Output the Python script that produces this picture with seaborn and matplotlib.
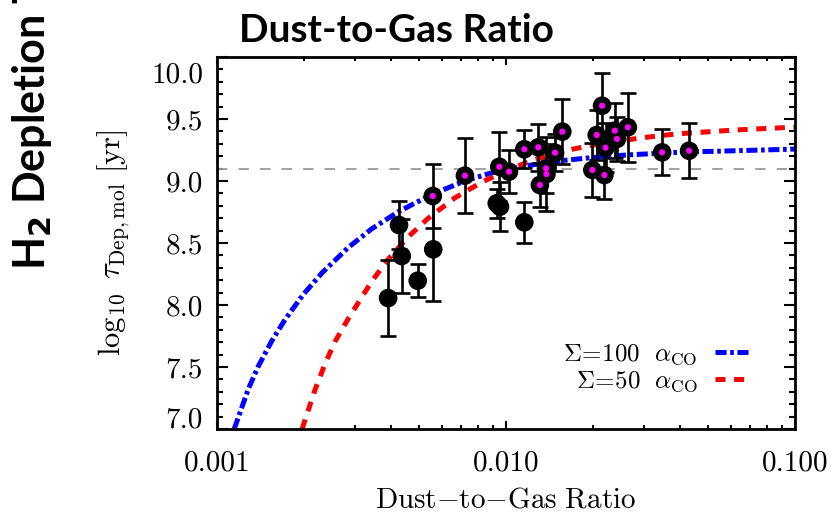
import matplotlib
matplotlib.use("Agg")
import matplotlib.pyplot as plt
import matplotlib.transforms as mtransforms
from matplotlib.ticker import FixedLocator, FixedFormatter, NullFormatter, LogLocator
from matplotlib.lines import Line2D
import numpy as np
import pandas as pd
import seaborn as sns

# ---- data -------------------------------------------------------------
# galaxies shown as plain black points
plain_dgr = [0.00391, 0.004264, 0.004357, 0.00495, 0.00560, 0.00929, 0.00953, 0.01157]
plain_tau = [8.056, 8.645, 8.395, 8.196, 8.449, 8.820, 8.793, 8.667]
plain_err = [0.31, 0.19, 0.30, 0.135, 0.42, 0.115, 0.20, 0.163]

# galaxies shown as black points with a magenta centre
marked_dgr = [0.00558, 0.00721, 0.00948, 0.01024, 0.01157, 0.01293, 0.01478,
              0.01375, 0.0138, 0.0131, 0.01566, 0.0215, 0.0206, 0.0199,
              0.0219, 0.0221, 0.0238, 0.0242, 0.0264, 0.0347, 0.0430]
marked_tau = [8.879, 9.043, 9.115, 9.075, 9.256, 9.272, 9.228,
              9.102, 9.056, 8.968, 9.398, 9.607, 9.371, 9.089,
              9.048, 9.269, 9.406, 9.339, 9.433, 9.231, 9.244]
marked_err = [0.255, 0.30, 0.28, 0.175, 0.155, 0.19, 0.15,
              0.20, 0.30, 0.18, 0.26, 0.26, 0.20, 0.215,
              0.19, 0.20, 0.22, 0.18, 0.28, 0.185, 0.22]

# model curves
model100_dgr = [0.001147, 0.001283, 0.001389, 0.001546, 0.001719, 0.001989, 0.002304,
                0.002846, 0.00343, 0.00424, 0.005531, 0.007212, 0.009406, 0.01118,
                0.01538, 0.0200, 0.02616, 0.0400, 0.0961, 0.1]
model100_tau = [7.0, 7.322, 7.505, 7.709, 7.882, 8.085, 8.257,
                8.464, 8.614, 8.752, 8.891, 9.001, 9.082, 9.115,
                9.163, 9.190, 9.210, 9.232, 9.256, 9.258]

model50_dgr = [0.00197, 0.002183, 0.002364, 0.002561, 0.002846, 0.003125, 0.00343,
               0.003915, 0.004591, 0.005385, 0.006662, 0.008236, 0.01019, 0.0126,
               0.01709, 0.02115, 0.02986, 0.03897, 0.06283, 0.0911, 0.1]
model50_tau = [7.0, 7.315, 7.525, 7.705, 7.89, 8.04, 8.19,
               8.37, 8.55, 8.70, 8.865, 8.99, 9.09, 9.175,
               9.258, 9.300, 9.350, 9.380, 9.412, 9.430, 9.434]

reference_tau = 9.1

x_ticks = [0.001, 0.01, 0.1]
x_ticklabels = ["0.001", "0.010", "0.100"]
y_ticks = [7.0, 7.5, 8.0, 8.5, 9.0, 9.5, 10.0]
y_ticklabels = ["7.0", "7.5", "8.0", "8.5", "9.0", "9.5", "10.0"]

label100 = r"$\Sigma\!=\!100\ \ \alpha_{\rm CO}$"
label50 = r"$\Sigma\!=\!50\ \ \alpha_{\rm CO}$"

# ---- style ------------------------------------------------------------
sns.set_style("ticks")
plt.rcParams["font.family"] = ["cmr10", "DejaVu Serif"]
plt.rcParams["mathtext.fontset"] = "cm"
plt.rcParams["lines.scale_dashes"] = False
plt.rcParams["axes.unicode_minus"] = False
plt.rcParams["text.color"] = "black"
plt.rcParams["axes.labelcolor"] = "black"
plt.rcParams["xtick.color"] = "black"
plt.rcParams["ytick.color"] = "black"

fig = plt.figure(figsize=(8.36, 5.13), dpi=100)
ax = fig.add_axes([217 / 836, 1 - 429 / 513, 578 / 836, 372 / 513])
ax.set_xscale("log")

# reference level
ax.axhline(reference_tau, color="#9a9a9a", lw=1.3, dashes=(7.5, 8), zorder=1)

# model curves
sns.lineplot(x=model100_dgr, y=model100_tau, ax=ax, color="#0000ff", lw=3.6,
             estimator=None, sort=False, zorder=2, legend=False)
ax.lines[-1].set_dashes([8, 2.6, 2.6, 2.6])
ax.lines[-1].set_dash_capstyle("butt")
sns.lineplot(x=model50_dgr, y=model50_tau, ax=ax, color="#ff0000", lw=3.6,
             estimator=None, sort=False, zorder=2, legend=False)
ax.lines[-1].set_dashes([7.2, 6.2])
ax.lines[-1].set_dash_capstyle("butt")

# error bars
ax.errorbar(plain_dgr, plain_tau, yerr=plain_err, fmt="none", ecolor="black",
            elinewidth=1.9, capsize=5.8, capthick=1.9, zorder=3)
ax.errorbar(marked_dgr, marked_tau, yerr=marked_err, fmt="none", ecolor="black",
            elinewidth=1.9, capsize=5.8, capthick=1.9, zorder=3)

# points
sns.scatterplot(x=plain_dgr + marked_dgr, y=plain_tau + marked_tau, ax=ax,
                s=180, color="black", edgecolor="none", zorder=4, legend=False)
sns.scatterplot(x=marked_dgr, y=marked_tau, ax=ax, s=20, color="#ff00ff",
                edgecolor="none", zorder=5, legend=False)

ax.set_xlim(0.001, 0.1)
ax.set_ylim(7.0, 10.0)

# axes, ticks
for sp in ax.spines.values():
    sp.set_linewidth(2.0)
    sp.set_color("black")
    sp.set_visible(True)

ax.xaxis.set_major_locator(FixedLocator(x_ticks))
ax.xaxis.set_major_formatter(FixedFormatter(x_ticklabels))
ax.xaxis.set_minor_locator(LogLocator(base=10, subs=np.arange(2, 10)))
ax.xaxis.set_minor_formatter(NullFormatter())
ax.yaxis.set_major_locator(FixedLocator(y_ticks))
ax.yaxis.set_major_formatter(FixedFormatter(y_ticklabels))
ax.yaxis.set_minor_locator(FixedLocator(np.round(np.arange(7.0, 10.01, 0.1), 2)))

ax.tick_params(which="both", direction="in", top=True, right=True,
               width=1.5, color="black", labelsize=21, labelcolor="black")
ax.tick_params(axis="y", which="major", length=8, pad=10)
ax.tick_params(axis="y", which="minor", length=4)
ax.tick_params(axis="x", which="major", length=6, pad=15)
ax.tick_params(axis="x", which="minor", length=3)

ax.set_xlabel(r"$\mathrm{Dust{-}to{-}Gas\ Ratio}$", fontsize=21, labelpad=8)
ax.set_ylabel(r"$\log_{10}\ \tau_{\rm Dep,mol}\ [{\rm yr}]$", fontsize=22, labelpad=14)

# pull the end labels of the y axis inside the frame
yt = ax.yaxis.get_major_ticks(len(y_ticks))
yt[0].label1.set_transform(yt[0].label1.get_transform()
                           + mtransforms.ScaledTranslation(0, 0.12, fig.dpi_scale_trans))
yt[-1].label1.set_transform(yt[-1].label1.get_transform()
                            + mtransforms.ScaledTranslation(0, -0.15, fig.dpi_scale_trans))

# legend: text on the left, line sample on the right
handles = [Line2D([], [], color="#0000ff", lw=3.6, dashes=[8, 2.6, 2.6, 2.6]),
           Line2D([], [], color="#ff0000", lw=3.6, dashes=[7.2, 6.2])]
ax.legend(handles, [label100, label50], loc="lower right",
          bbox_to_anchor=(0.922, 0.095), frameon=False, markerfirst=False,
          fontsize=18, handlelength=1.4, handletextpad=0.7, labelspacing=0.1,
          borderpad=0, borderaxespad=0)

# headings
fig.text(396 / 836, 1 - 31 / 513, "Dust-to-Gas Ratio", ha="center", va="center",
         fontsize=28, fontweight="bold", family="Lato", color="black")
fig.text(0.038, 1 - 270 / 513, r"H$_{\mathbf{2}}$ Depletion Time", rotation=90,
         ha="center", va="bottom", fontsize=31, fontweight="bold", family="Lato",
         math_fontfamily="dejavusans", color="black")

fig.savefig("out.png", dpi=100)
